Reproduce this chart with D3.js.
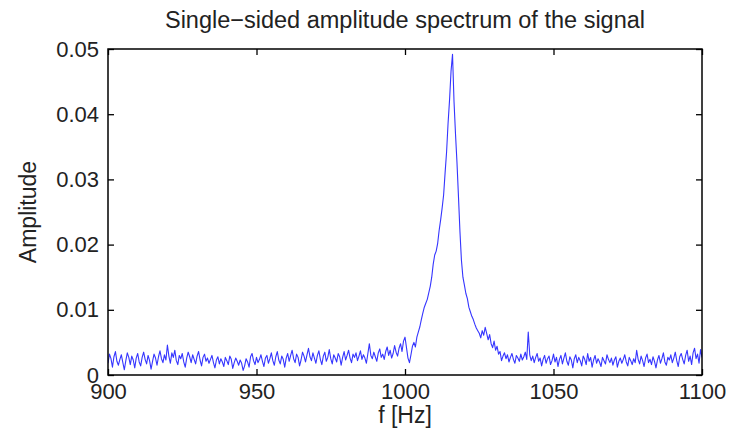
<!DOCTYPE html>
<html>
<head>
<meta charset="utf-8">
<script src="https://cdn.jsdelivr.net/npm/d3@7"></script>
<style>
  body { margin: 0; background: #fff; }
  text { font-family: "Liberation Sans", Arial, sans-serif; fill: #222; }
</style>
</head>
<body>
<div id="chart"></div>
<script>
const width = 737
const height = 441
const margin = {top: 49, bottom: 66, left: 108, right: 35}
const netWidth = width - margin.left - margin.right
const netHeight = height - margin.top - margin.bottom

// Data: single-sided amplitude spectrum, 0.5 Hz bins from 900 Hz
const freqStart = 900
const freqStep = 0.5
const amplitude = [
  0.0018, 0.0032, 0.0025, 0.0012, 0.0028, 0.0036, 0.0021, 0.0015, 0.0024, 0.0031,
  0.0019, 0.0008, 0.0022, 0.0034, 0.0027, 0.0016, 0.0029, 0.0023, 0.0011, 0.0026,
  0.0033, 0.0020, 0.0014, 0.0027, 0.0035, 0.0024, 0.0017, 0.0030, 0.0022, 0.0009,
  0.0021, 0.0032, 0.0026, 0.0015, 0.0028, 0.0037, 0.0025, 0.0019, 0.0031, 0.0023,
  0.0046, 0.0029, 0.0018, 0.0034, 0.0027, 0.0038, 0.0022, 0.0016, 0.0030, 0.0025,
  0.0033, 0.0020, 0.0012, 0.0026, 0.0035, 0.0028, 0.0019, 0.0031, 0.0024, 0.0017,
  0.0029, 0.0036, 0.0023, 0.0014, 0.0027, 0.0032, 0.0021, 0.0026, 0.0018, 0.0024,
  0.0030, 0.0019, 0.0011, 0.0023, 0.0028, 0.0017, 0.0025, 0.0020, 0.0013, 0.0027,
  0.0022, 0.0016, 0.0029, 0.0024, 0.0010, 0.0019, 0.0026, 0.0021, 0.0015, 0.0023,
  0.0018, 0.0007, 0.0014, 0.0025, 0.0020, 0.0012, 0.0028, 0.0033, 0.0022, 0.0016,
  0.0027, 0.0019, 0.0024, 0.0031, 0.0021, 0.0013, 0.0026, 0.0030, 0.0018, 0.0025,
  0.0034, 0.0022, 0.0015, 0.0028, 0.0036, 0.0023, 0.0017, 0.0029, 0.0024, 0.0012,
  0.0026, 0.0033, 0.0021, 0.0030, 0.0038, 0.0025, 0.0019, 0.0032, 0.0027, 0.0014,
  0.0023, 0.0035, 0.0029, 0.0020, 0.0031, 0.0041, 0.0028, 0.0022, 0.0034, 0.0026,
  0.0018, 0.0030, 0.0037, 0.0024, 0.0016, 0.0029, 0.0035, 0.0021, 0.0027, 0.0039,
  0.0025, 0.0017, 0.0031, 0.0026, 0.0020, 0.0033, 0.0028, 0.0015, 0.0027, 0.0036,
  0.0023, 0.0030, 0.0038, 0.0026, 0.0019, 0.0032, 0.0027, 0.0034, 0.0022, 0.0029,
  0.0037, 0.0024, 0.0031, 0.0026, 0.0018, 0.0033, 0.0048, 0.0030, 0.0025, 0.0035,
  0.0028, 0.0021, 0.0034, 0.0040, 0.0027, 0.0032, 0.0024, 0.0036, 0.0043, 0.0030,
  0.0038, 0.0026, 0.0033, 0.0045, 0.0035, 0.0029, 0.0041, 0.0048, 0.0036, 0.0052,
  0.0058, 0.0042, 0.0026, 0.0019, 0.0031, 0.0044, 0.0050, 0.0043, 0.0058, 0.0066,
  0.0074, 0.0085, 0.0095, 0.0104, 0.0110, 0.0116, 0.0126, 0.0136, 0.0150, 0.0170,
  0.0184, 0.0190, 0.0202, 0.0222, 0.0238, 0.0256, 0.0276, 0.0310, 0.0342, 0.0386,
  0.0422, 0.0466, 0.0492, 0.0420, 0.0370, 0.0326, 0.0274, 0.0220, 0.0176, 0.0150,
  0.0138, 0.0125, 0.0117, 0.0104, 0.0097, 0.0090, 0.0085, 0.0078, 0.0072, 0.0068,
  0.0064, 0.0057, 0.0068, 0.0061, 0.0073, 0.0064, 0.0054, 0.0062, 0.0048, 0.0042,
  0.0052, 0.0038, 0.0044, 0.0032, 0.0036, 0.0022, 0.0029, 0.0034, 0.0025, 0.0031,
  0.0020, 0.0027, 0.0033, 0.0024, 0.0018, 0.0030, 0.0026, 0.0021, 0.0032, 0.0023,
  0.0028, 0.0035, 0.0024, 0.0066, 0.0031, 0.0022, 0.0029, 0.0019, 0.0027, 0.0033,
  0.0021, 0.0026, 0.0014, 0.0024, 0.0030, 0.0018, 0.0025, 0.0029, 0.0016, 0.0022,
  0.0032, 0.0020, 0.0027, 0.0013, 0.0024, 0.0030, 0.0017, 0.0026, 0.0034, 0.0021,
  0.0015, 0.0028, 0.0023, 0.0011, 0.0025, 0.0031, 0.0019, 0.0027, 0.0022, 0.0014,
  0.0029, 0.0024, 0.0016, 0.0033, 0.0021, 0.0027, 0.0012, 0.0023, 0.0030, 0.0018,
  0.0025, 0.0020, 0.0013, 0.0027, 0.0022, 0.0017, 0.0031, 0.0024, 0.0019, 0.0026,
  0.0015, 0.0023, 0.0028, 0.0012, 0.0021, 0.0026, 0.0018, 0.0024, 0.0031, 0.0020,
  0.0014, 0.0027, 0.0022, 0.0016, 0.0025, 0.0019, 0.0038, 0.0024, 0.0017, 0.0029,
  0.0022, 0.0013, 0.0026, 0.0032, 0.0019, 0.0024, 0.0016, 0.0028, 0.0021, 0.0011,
  0.0023, 0.0030, 0.0018, 0.0025, 0.0034, 0.0020, 0.0015, 0.0027, 0.0023, 0.0031,
  0.0019, 0.0026, 0.0035, 0.0022, 0.0013, 0.0028, 0.0033, 0.0024, 0.0017, 0.0030,
  0.0038, 0.0021, 0.0029, 0.0016, 0.0034, 0.0041, 0.0025, 0.0032, 0.0018, 0.0039,
  0.0027
]
const xTicks = [900, 950, 1000, 1050, 1100]
const yTicks = [0, 0.01, 0.02, 0.03, 0.04, 0.05]
const yTickLabels = ["0", "0.01", "0.02", "0.03", "0.04", "0.05"]
const title = "Single\u2212sided amplitude spectrum of the signal"
const xLabel = "f [Hz]"
const yLabel = "Amplitude"

const data = amplitude.map((a, i) => ({f: freqStart + i * freqStep, a: a}))

const svg = d3.select("div#chart").append("svg").attr("width", width).attr("height", height)
const plot = svg.append("g").attr("transform", `translate(${margin.left}, ${margin.top})`)

const x = d3.scaleLinear().domain([900, 1100]).range([0, netWidth])
const y = d3.scaleLinear().domain([0, 0.05]).range([netHeight, 0])

// Clip for the spectrum line
plot.append("clipPath").attr("id", "clip")
  .append("rect").attr("width", netWidth).attr("height", netHeight)

const line = d3.line().x(d => x(d.f)).y(d => y(d.a))
plot.append("path")
  .datum(data)
  .attr("clip-path", "url(#clip)")
  .attr("fill", "none")
  .attr("stroke", "#3535ff")
  .attr("stroke-width", 1.1)
  .attr("stroke-linejoin", "round")
  .attr("d", line)

// Axes, MATLAB style: ticks pointing inwards on all four sides
const tickLen = 6
const fontSize = 22
const xBottom = d3.axisBottom(x).tickValues(xTicks).tickSizeInner(-tickLen).tickSizeOuter(0).tickPadding(8)
  .tickFormat(d3.format("d"))
const xTop = d3.axisTop(x).tickValues(xTicks).tickSizeInner(-tickLen).tickSizeOuter(0).tickFormat("")
const yLeft = d3.axisLeft(y).tickValues(yTicks).tickSizeInner(-tickLen).tickSizeOuter(0).tickPadding(9)
  .tickFormat((d, i) => yTickLabels[i])
const yRight = d3.axisRight(y).tickValues(yTicks).tickSizeInner(-tickLen).tickSizeOuter(0).tickFormat("")

const gxb = plot.append("g").attr("transform", `translate(0, ${netHeight})`).call(xBottom)
const gxt = plot.append("g").call(xTop)
const gyl = plot.append("g").call(yLeft)
const gyr = plot.append("g").attr("transform", `translate(${netWidth}, 0)`).call(yRight)

;[gxb, gxt, gyl, gyr].forEach(g => {
  g.select(".domain").remove()
  g.selectAll(".tick line").attr("stroke", "#000").attr("stroke-width", 1.3)
  g.selectAll(".tick text").style("font-size", fontSize + "px").attr("fill", "#222")
    .style("font-family", "'Liberation Sans', Arial, sans-serif")
})

// Box
plot.append("rect")
  .attr("width", netWidth).attr("height", netHeight)
  .attr("fill", "none").attr("stroke", "#000").attr("stroke-width", 1.5)

// Title and labels
svg.append("text")
  .attr("x", margin.left + netWidth / 2).attr("y", 28)
  .attr("text-anchor", "middle").style("font-size", "23.5px")
  .text(title)

svg.append("text")
  .attr("x", margin.left + netWidth / 2).attr("y", 423)
  .attr("text-anchor", "middle").style("font-size", "23px")
  .text(xLabel)

svg.append("text")
  .attr("transform", `translate(36, ${margin.top + netHeight / 2}) rotate(-90)`)
  .attr("text-anchor", "middle").style("font-size", "23px")
  .text(yLabel)
</script>
</body>
</html>
